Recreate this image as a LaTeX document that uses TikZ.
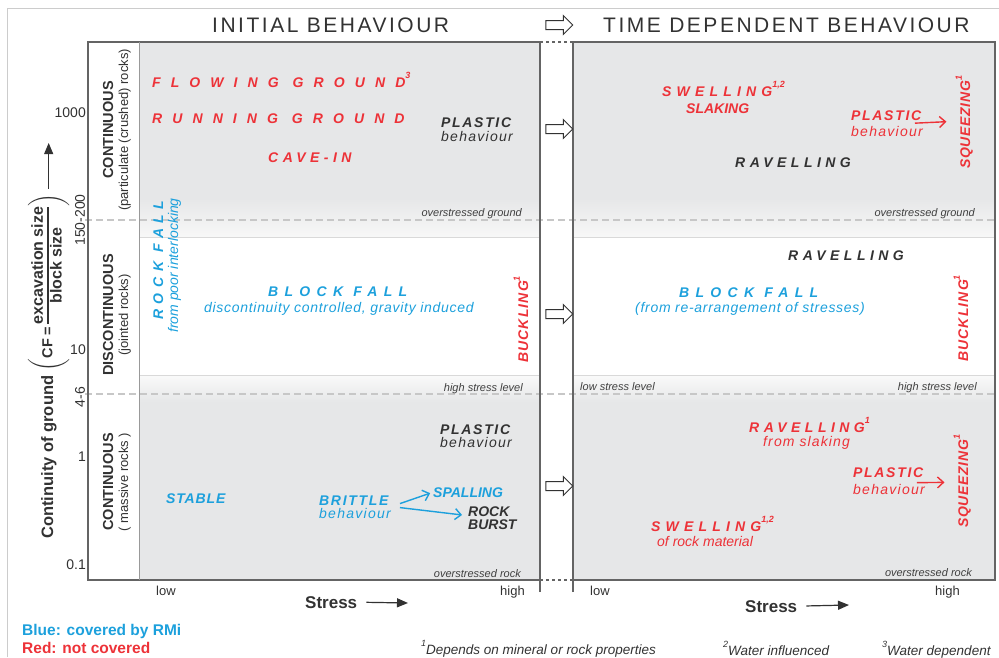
\documentclass[tikz,border=0pt]{standalone}
\usepackage{amsmath}
\usepackage{fontspec}
\setmainfont{Liberation Sans}
\usetikzlibrary{arrows.meta,shapes.arrows}

\definecolor{rmred}{RGB}{237,50,56}
\definecolor{rmblue}{RGB}{28,160,220}
\definecolor{txtdark}{RGB}{50,50,50}
\definecolor{panelgray}{RGB}{230,231,232}
\definecolor{framegray}{RGB}{100,100,100}

\setlength{\arrayrulewidth}{1.2pt}

% letter spaced text and small raised footnote marks
\newcommand{\lsp}[2]{{\addfontfeatures{LetterSpace=#1}#2}}
\newcommand{\supnote}[1]{\raisebox{1.1ex}{\fontsize{9}{9}\selectfont #1}}

\tikzset{
  hazard/.style={inner sep=0pt, font=\fontsize{14}{14}\selectfont\bfseries\itshape},
  subtxt/.style={font=\fontsize{14}{14}\selectfont\itshape},
  redtxt/.style={hazard, text=rmred},
  bluetxt/.style={hazard, text=rmblue},
  darktxt/.style={hazard, text=txtdark},
  note/.style={inner sep=0pt, text=black!75, font=\fontsize{11}{12}\selectfont\itshape},
  ticklbl/.style={inner sep=0pt, text=txtdark, font=\fontsize{14}{14}\selectfont},
  axislbl/.style={inner sep=0pt, text=txtdark, font=\fontsize{13}{13}\selectfont},
  heading/.style={inner sep=0pt, text=txtdark, font=\fontsize{21}{21}\selectfont},
  cat/.style={rotate=90, align=center, inner sep=0pt, text=txtdark, font=\fontsize{13}{15}\selectfont},
  hollowarrow/.style={single arrow, draw=txtdark, fill=white, line width=1pt, inner sep=4pt,
    minimum height=27pt, single arrow head extend=5pt},
  pointer/.style={-{Straight Barb[length=6pt,width=11pt]}, line width=1.4pt},
  bigtip/.style={-{Triangle[length=11pt,width=9pt]}, line width=1.2pt, txtdark},
  legend/.style={inner sep=0pt, font=\fontsize{15.5}{16}\selectfont\bfseries},
  footnote/.style={inner sep=0pt, text=txtdark, font=\fontsize{13.5}{14}\selectfont\itshape},
}

\begin{document}
\begin{tikzpicture}[x=1pt, y=-1pt]
\useasboundingbox (0,0) rectangle (999,657);

% page frame
\draw[black!20, line width=0.8pt] (7,657) -- (7,8) -- (999,8);

% ground bands of both panels
\foreach \xa/\xb in {139/540, 573/995} {
  \fill[panelgray] (\xa,42) rectangle (\xb,198);
  \shade[top color=panelgray, bottom color=black!3] (\xa,198) rectangle (\xb,237);
  \shade[top color=black!2, bottom color=panelgray] (\xa,375) rectangle (\xb,402);
  \fill[panelgray] (\xa,402) rectangle (\xb,580);
  \draw[black!15] (\xa,237) -- (\xb,237) (\xa,375) -- (\xb,375);
}

% CF limits
\draw[black!22, line width=1.5pt, dash pattern=on 7pt off 4pt] (85,220) -- (995,220) (85,394) -- (995,394);

% panel frames
\draw[framegray, line width=1.6pt] (540,592) -- (540,42) -- (88,42) -- (88,580) -- (540,580);
\draw[framegray, line width=1.6pt] (573,592) -- (573,42) -- (995,42) -- (995,580) -- (573,580);
\draw[framegray, line width=1.2pt, dashed] (540,42) -- (573,42) (540,580) -- (573,580);
\draw[black!40, line width=1pt] (139,42) -- (139,580);

% headings
\node (initHead) [heading, anchor=base west] at (212,32) {\lsp{12}{INITIAL BEHAVIOUR}};
\node (timeHead) [heading, anchor=base west] at (603,32) {\lsp{12}{TIME DEPENDENT BEHAVIOUR}};
\node (headArrow) [hollowarrow] at (557,25) {};
\foreach \y/\n in {129/A, 314/B, 486/C}
  \node (gap\n) [hollowarrow] at (557,\y) {};

% vertical axis
\node (v1000) [ticklbl, anchor=east] at (86,113) {1000};
\node (v150) [ticklbl, rotate=90] at (80,220) {150-200};
\node (v10) [ticklbl, anchor=east] at (86,350) {10};
\node (v46) [ticklbl, rotate=90] at (80,397) {4-6};
\node (v1) [ticklbl, anchor=east] at (86,457) {1};
\node (v01) [ticklbl, anchor=east] at (86,565) {0.1};

\node (ytitle) [rotate=90, anchor=base west, inner sep=1pt, text=txtdark, font=\fontsize{16.5}{17}\selectfont\bfseries] at (53,540)
  {Continuity of ground\ $\left(\vcenter{\hbox{\fontsize{14.5}{15}\selectfont CF =\,\begin{tabular}{@{}c@{}}\fontsize{16}{17}\selectfont excavation size\\\hline
   \rule{0pt}{13pt}\fontsize{16}{17}\selectfont block size\end{tabular}}}\right)$};
\coordinate (ytip) at (ytitle.east |- 0,143);
\draw[bigtip, line width=1pt, shorten <=4pt] (ytitle.east) -- (ytip);

% ground classes
\node (contTop) [cat] at (117,130) {{\fontsize{14.5}{15}\selectfont\bfseries CONTINUOUS}\\(particulate (crushed) rocks)};
\node (discont) [cat] at (117,315) {{\fontsize{14.5}{15}\selectfont\bfseries DISCONTINUOUS}\\(jointed rocks)};
\node (contBot) [cat] at (117,482) {{\fontsize{14.5}{15}\selectfont\bfseries CONTINUOUS}\\( massive rocks )};

% initial behaviour
\node (flowing) [redtxt, anchor=base west] at (152,87) {\lsp{72}{FLOWING GROUND}\supnote{3}};
\node (running) [redtxt, anchor=base west] at (152,123) {\lsp{72}{RUNNING GROUND}};
\node (cavein) [redtxt, anchor=base west] at (268,162) {\lsp{32}{CAVE-IN}};
\node (plasticTL) [darktxt, anchor=north west, align=left] at (441,118) {\lsp{12}{PLASTIC}\\\mdseries\lsp{9}{behaviour}};
\node (overGroundL) [note, anchor=base east] at (522,216) {overstressed ground};

\node (rockfall) [bluetxt, rotate=90, anchor=base west] at (163,320) {\lsp{40}{ROCK FALL}};
\node (rockfallSub) [bluetxt, subtxt, rotate=90, anchor=base west] at (178,333) {from poor interlocking};
\node (blockfallL) [bluetxt, anchor=base west] at (268,296) {\lsp{45}{BLOCK FALL}};
\node (blockfallLSub) [bluetxt, subtxt, anchor=base west] at (204,312) {\lsp{5}{discontinuity controlled, gravity induced}};
\node (bucklingL) [redtxt, rotate=90, anchor=base west] at (528,363) {\lsp{8}{BUCKLING}\supnote{1}};
\node (highStressL) [note, anchor=base east] at (523,391) {high stress level};

\node (plasticBL) [darktxt, anchor=north west, align=left] at (440,425) {\lsp{12}{PLASTIC}\\[-1pt]\mdseries\lsp{9}{behaviour}};
\node (stable) [bluetxt, anchor=base west] at (166,503) {\lsp{6}{STABLE}};
\node (brittle) [bluetxt, anchor=north west, align=left] at (319,496) {\lsp{12}{BRITTLE}\\[-1pt]\mdseries\lsp{9}{behaviour}};
\node (spalling) [bluetxt, anchor=base west] at (433,497) {SPALLING};
\node (rockburst) [darktxt, anchor=north west, align=left] at (468,507) {ROCK\\[-1pt]BURST};
\node (overRockL) [note, anchor=base east] at (521,577) {overstressed rock};

\draw[pointer, rmblue, shorten >=3pt] ([xshift=9pt,yshift=4pt]brittle.east) -- (spalling.west);
\draw[pointer, rmblue, shorten >=6pt] ([xshift=9pt]brittle.east) -- ([yshift=3pt]rockburst.west);

\node (lowL) [axislbl, anchor=base west] at (156,595) {low};
\node (highL) [axislbl, anchor=base west] at (500,595) {high};
\node (stressL) [inner sep=0pt, text=txtdark, font=\fontsize{17}{17}\selectfont\bfseries, anchor=base west] at (305,608) {Stress};
\coordinate (stressLtip) at (408,603);
\draw[bigtip, shorten <=9pt] (stressL.east) -- (stressLtip);

% time dependent behaviour
\node (swellT) [redtxt, anchor=base west] at (662,96) {\lsp{37}{SWELLING}\supnote{1,2}};
\node (slaking) [redtxt, anchor=base west] at (686,113) {SLAKING};
\node (plasticTR) [redtxt, anchor=north west, align=left] at (851,111) {\lsp{12}{PLASTIC}\\[2pt]\mdseries\lsp{9}{behaviour}};
\node (squeezeT) [redtxt, rotate=90, anchor=base west] at (970,169) {\lsp{5}{SQUEEZING}\supnote{1}};
\node (ravelT) [darktxt, anchor=base west] at (735,167) {\lsp{32}{RAVELLING}};
\node (overGroundR) [note, anchor=base east] at (975,216) {overstressed ground};

\draw[pointer, rmred, shorten >=9pt] ([xshift=-8pt,yshift=1pt]plasticTR.east) -- ([yshift=1pt]squeezeT.north);

\node (ravelM) [darktxt, anchor=base west] at (788,260) {\lsp{32}{RAVELLING}};
\node (blockfallR) [bluetxt, anchor=base west] at (679,297) {\lsp{45}{BLOCK FALL}};
\node (blockfallRSub) [bluetxt, subtxt, anchor=base west] at (635,312) {\lsp{5}{(from re-arrangement of stresses)}};
\node (bucklingR) [redtxt, rotate=90, anchor=base west] at (968,362) {\lsp{8}{BUCKLING}\supnote{1}};
\node (lowStressR) [note, anchor=base west] at (580,390) {low stress level};
\node (highStressR) [note, anchor=base east] at (977,390) {high stress level};

\node (ravelB) [redtxt, anchor=base west] at (749,432) {\lsp{32}{RAVELLING}\supnote{1}};
\node (slakingSub) [redtxt, subtxt, anchor=base west] at (763,446) {\lsp{8}{from slaking}};
\node (plasticBR) [redtxt, anchor=north west, align=left] at (853,468) {\lsp{12}{PLASTIC}\\[3pt]\mdseries\lsp{9}{behaviour}};
\node (squeezeB) [redtxt, rotate=90, anchor=base west] at (968,528) {\lsp{5}{SQUEEZING}\supnote{1}};
\node (swellB) [redtxt, anchor=base west] at (651,531) {\lsp{37}{SWELLING}\supnote{1,2}};
\node (rockMat) [redtxt, subtxt, anchor=base west] at (657,546) {of rock material};
\node (overRockR) [note, anchor=base east] at (972,576) {overstressed rock};

\draw[pointer, rmred, shorten >=9pt] ([xshift=-8pt,yshift=-1pt]plasticBR.east) -- ([yshift=-1pt]squeezeB.north);

\node (lowR) [axislbl, anchor=base west] at (590,595) {low};
\node (highR) [axislbl, anchor=base west] at (935,595) {high};
\node (stressR) [inner sep=0pt, text=txtdark, font=\fontsize{17}{17}\selectfont\bfseries, anchor=base west] at (745,612) {Stress};
\coordinate (stressRtip) at (849,605);
\draw[bigtip, shorten <=9pt] (stressR.east) -- (stressRtip);

% legend and footnotes
\node (legBlue) [legend, text=rmblue, anchor=base west] at (22,635) {Blue: covered by RMi};
\node (legRed) [legend, text=rmred, anchor=base west] at (22,653) {Red: not covered};
\node (foot1) [footnote, anchor=base west] at (421,654) {\supnote{1}Depends on mineral or rock properties};
\node (foot2) [footnote, anchor=base west] at (723,655) {\supnote{2}Water influenced};
\node (foot3) [footnote, anchor=base west] at (882,655) {\supnote{3}Water dependent};
\end{tikzpicture}
\end{document}
